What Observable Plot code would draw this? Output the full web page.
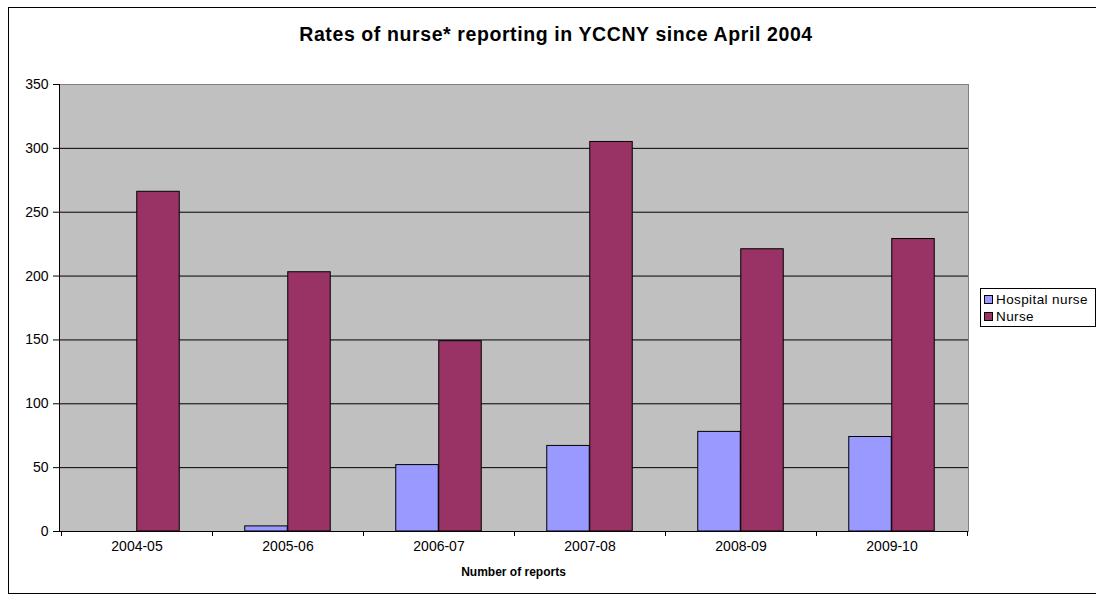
<!DOCTYPE html>
<html>
<head>
<meta charset="utf-8">
<script src="https://cdn.jsdelivr.net/npm/d3@7"></script>
<script src="https://cdn.jsdelivr.net/npm/@observablehq/plot@0.6"></script>
<style>
  html, body { margin: 0; padding: 0; background: #fff; overflow: hidden; }
  #wrap { position: relative; width: 1096px; height: 596px; font-family: "Liberation Sans", Arial, sans-serif; }
  #border { position: absolute; left: 8px; top: 7px; width: 1100px; height: 587px; border: 1px solid #000; box-sizing: border-box; }
  #title { position: absolute; left: 0; width: 1112px; top: 23px; text-align: center; font-weight: bold; font-size: 19.5px; letter-spacing: 0.6px; color: #000; }
  #xlabel { position: absolute; left: 59px; width: 909px; top: 565px; text-align: center; font-weight: bold; font-size: 12px; }
  #legend { position: absolute; left: 980px; top: 288px; width: 116px; height: 39px; border: 1px solid #000; box-sizing: border-box; background: #fff; font-size: 13.5px; letter-spacing: 0.4px; }
  .item { position: absolute; left: 3px; height: 16px; line-height: 16px; white-space: nowrap; }
  .sw { display: inline-block; width: 7px; height: 7px; border: 1px solid #000; margin-right: 3px; vertical-align: 0px; }
  svg { position: absolute; left: 0; top: 0; }
</style>
</head>
<body>
<div id="wrap">
  <div id="border"></div>
  <div id="title">Rates of nurse* reporting in YCCNY since April 2004</div>
  <div id="xlabel">Number of reports</div>
  <div id="legend"></div>
</div>
<script>
const years = ["2004-05", "2005-06", "2006-07", "2007-08", "2008-09", "2009-10"];
const hospitalNurse = [0, 4, 52, 67, 78, 74];
const nurse = [266, 203, 149, 305, 221, 229];
const seriesNames = ["Hospital nurse", "Nurse"];
const seriesColors = ["#9999FF", "#993366"];
const yTicks = [0, 50, 100, 150, 200, 250, 300, 350];

const W = 1096, H = 596, mL = 59, mR = 128, mT = 84, mB = 65;
const band = (W - mL - mR) / years.length;
const barW = 43;

const hospData = years.map((y, i) => ({year: y, value: hospitalNurse[i]}));
const nurseData = years.map((y, i) => ({year: y, value: nurse[i]}));

function boundaryTicks(index, scales, values, dims) {
  const g = d3.create("svg:g");
  const x = scales.x;
  const step = x(years[1]) - x(years[0]);
  const xs = years.map(y => x(y));
  xs.push(xs[xs.length - 1] + step);
  const y0 = scales.y(0);
  for (const xv of xs) {
    g.append("line").attr("x1", xv).attr("x2", xv).attr("y1", y0).attr("y2", y0 + 5)
      .attr("stroke", "#000").attr("stroke-width", 1).attr("shape-rendering", "crispEdges");
  }
  return g.node();
}

const chart = Plot.plot({
  width: W, height: H,
  marginLeft: mL, marginRight: mR, marginTop: mT, marginBottom: mB,
  style: {fontFamily: "'Liberation Sans', Arial, sans-serif", fontSize: "14px", color: "#000", background: "transparent", overflow: "visible"},
  x: {type: "band", domain: years, padding: 0, label: null},
  y: {domain: [0, 350], label: null},
  marks: [
    Plot.frame({fill: "#C0C0C0", stroke: "#808080"}),
    Plot.gridY(yTicks.filter(t => t > 0 && t < 350), {stroke: "#000", strokeOpacity: 1, strokeWidth: 1}),
    Plot.barY(hospData.filter(d => d.value > 0), {x: "year", y: "value", fill: seriesColors[0], stroke: "#000", strokeWidth: 1,
      insetLeft: band / 2 - barW, insetRight: band / 2}),
    Plot.barY(nurseData, {x: "year", y: "value", fill: seriesColors[1], stroke: "#000", strokeWidth: 1,
      insetLeft: band / 2, insetRight: band / 2 - barW}),
    Plot.frame({anchor: "left", stroke: "#000"}),
    Plot.ruleY([0], {stroke: "#000"}),
    Plot.axisY({ticks: yTicks, tickSize: 6, tickPadding: 5, tickFormat: d => String(d), stroke: "#000", style: {letterSpacing: "0.3px"}}),
    Plot.axisX({tickSize: 0, tickPadding: 10, style: {letterSpacing: "0.6px"}}),
    boundaryTicks
  ]
});
document.getElementById("wrap").insertBefore(chart, document.getElementById("title"));

const legend = document.getElementById("legend");
seriesNames.forEach((name, i) => {
  const it = document.createElement("div");
  it.className = "item";
  it.style.top = (3 + i * 17) + "px";
  const sw = document.createElement("span");
  sw.className = "sw";
  sw.style.background = seriesColors[i];
  it.appendChild(sw);
  it.appendChild(document.createTextNode(name));
  legend.appendChild(it);
});
</script>
</body>
</html>
